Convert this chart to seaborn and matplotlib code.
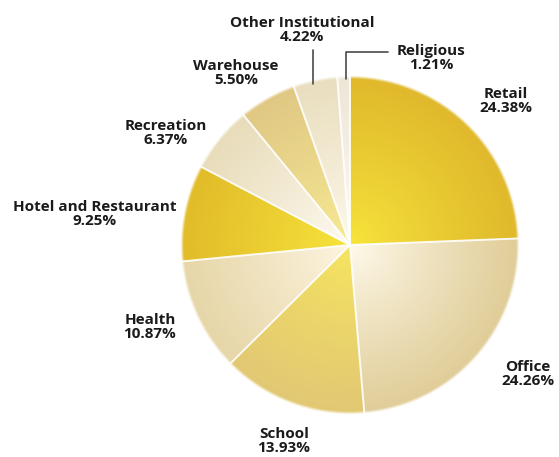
import numpy as np
import matplotlib
matplotlib.use("Agg")
import matplotlib.pyplot as plt
import seaborn as sns
from matplotlib.colors import to_rgb

# Building-type shares (percent), clockwise from 12 o'clock
categories = ["Retail", "Office", "School", "Health", "Hotel and Restaurant",
              "Recreation", "Warehouse", "Other Institutional", "Religious"]
shares = [24.38, 24.26, 13.93, 10.87, 9.25, 6.37, 5.50, 4.22, 1.21]

# Slice colours: rim tone and centre highlight of each radial gradient
rim_colors = ["#E0B92C", "#E0CD98", "#E2C874", "#E6D6A8", "#E2BC2A",
              "#E8DCBA", "#E0C884", "#E9DEBE", "#EEE6D6"]
core_colors = ["#F8E63C", "#FFFBEE", "#F7E65E", "#FFF7E4", "#F8E63C",
               "#FFFCF4", "#F9EC94", "#FFFAEE", "#FFFDF8"]

sns.set_theme(style="white")
plt.rcParams["font.family"] = ["Open Sans", "DejaVu Sans"]

W, H = 559, 457
fig = plt.figure(figsize=(W / 100, H / 100), dpi=100)
ax = fig.add_axes([0, 0, 1, 1])

cx, cy, R = 350, H - 245, 168

wedges, _ = ax.pie(shares, startangle=90, counterclock=False,
                   radius=R + 2, center=(cx, cy),
                   wedgeprops=dict(facecolor="none", edgecolor="none"))

# Radial gradient field with a soft outer rim
pad = 6
xs = np.linspace(cx - R - pad, cx + R + pad, 700)
ys = np.linspace(cy - R - pad, cy + R + pad, 700)
X, Y = np.meshgrid(xs, ys)
r = np.hypot(X - cx, Y - cy)
t = np.clip(r / R, 0, 1) ** 0.85
alpha = np.clip(0.5 + (R - r) / 3.0, 0, 1)
extent = (xs[0], xs[-1], ys[0], ys[-1])

for w, c_rim, c_core in zip(wedges, rim_colors, core_colors):
    a = np.array(to_rgb(c_core))
    b = np.array(to_rgb(c_rim))
    img = np.empty(X.shape + (4,))
    img[..., :3] = a + (b - a) * t[..., None]
    img[..., 3] = alpha
    im = ax.imshow(img, extent=extent, origin="lower", interpolation="bilinear", zorder=1)
    im.set_clip_path(w)

# White separators between slices
for w in wedges:
    th = np.deg2rad(w.theta1)
    ax.plot([cx, cx + (R + 1) * np.cos(th)], [cy, cy + (R + 1) * np.sin(th)],
            color="white", lw=1.4, alpha=0.9, zorder=3, solid_capstyle="butt")

# Label anchors (pixel positions of text centres)
label_pos = [(506, 101), (528, 374), (284, 441), (150, 327), (95, 214),
             (166, 133), (236, 73), (302, 30), (431, 58)]

for cat, val, (lx, ly) in zip(categories, shares, label_pos):
    ax.text(lx, H - ly, f"{cat}\n{val:.2f}%", ha="center", va="center",
            multialignment="center", fontsize=11, fontweight="bold",
            color="#1a1a1a", linespacing=1.08, zorder=5)

# Leader lines for the two thin slices at the top
def mid_angle(w):
    return np.deg2rad(0.5 * (w.theta1 + w.theta2))

w_oi = wedges[categories.index("Other Institutional")]
x_oi = cx + R * np.cos(mid_angle(w_oi)) - 2
ax.plot([x_oi, x_oi], [H - 50, cy + R * 0.98 * np.sin(mid_angle(w_oi))],
        color="#4a4a4a", lw=1.2, zorder=4)

w_rel = wedges[categories.index("Religious")]
x_rel = cx + R * np.cos(mid_angle(w_rel)) + 2
ax.plot([388, x_rel, x_rel],
        [H - 52, H - 52, cy + R * 0.99 * np.sin(mid_angle(w_rel))],
        color="#4a4a4a", lw=1.2, zorder=4)

ax.set_xlim(0, W)
ax.set_ylim(0, H)
ax.set_aspect("equal")
ax.axis("off")

fig.savefig("out.png", dpi=100, facecolor="white")
